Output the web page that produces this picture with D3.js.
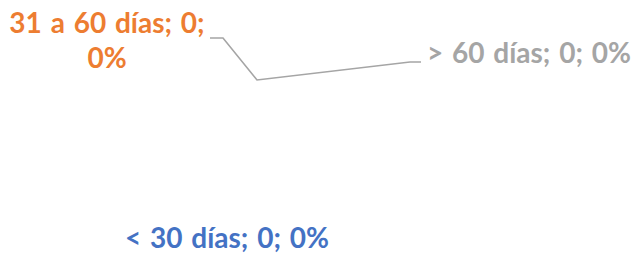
<!DOCTYPE html>
<html>
<head>
<meta charset="utf-8">
<script src="https://cdn.jsdelivr.net/npm/d3@7"></script>
<style>
  body { margin: 0; background: #fff; }
  text { font-family: Lato, "Open Sans", sans-serif; font-weight: bold; }
</style>
</head>
<body>
<div id="chart"></div>
<script>
const categories = ["< 30 días", "31 a 60 días", "> 60 días"];
const values = [0, 0, 0];
const percents = ["0%", "0%", "0%"];
const colors = ["#4472C4", "#ED7D31", "#A5A5A5"];

const width = 633, height = 253;
const svg = d3.select("#chart").append("svg")
    .attr("width", width)
    .attr("height", height);

const pie = d3.pie().sort(null).value(d => d.value);
const data = categories.map((c, i) => ({ name: c, value: values[i], pct: percents[i], color: colors[i] }));
const arcs = pie(data);
const arc = d3.arc().innerRadius(0).outerRadius(70);

// pie body (all slices are zero so nothing visible)
const g = svg.append("g").attr("transform", "translate(316,150)");
g.selectAll("path")
    .data(arcs)
    .join("path")
    .attr("d", arc)
    .attr("fill", d => d.data.color);

// label placement as Excel left it
const labelLayout = [
    { lines: [d => `${d.name}; ${d.value}; ${d.pct}`], x: 227, y: 248, anchor: "middle" },
    { lines: [d => `${d.name}; ${d.value};`, d => d.pct], x: 107, y: 33, dy: 35, anchor: "middle" },
    { lines: [d => `${d.name}; ${d.value}; ${d.pct}`], x: 427, y: 63, anchor: "start" }
];

arcs.forEach((a, i) => {
    const L = labelLayout[i];
    const t = svg.append("text")
        .attr("fill", a.data.color)
        .attr("font-size", 28)
        .attr("word-spacing", 2)
        .attr("text-anchor", L.anchor);
    L.lines.forEach((fn, j) => {
        t.append("tspan")
            .attr("x", L.x)
            .attr("y", L.y + j * (L.dy || 0))
            .text(fn(a.data));
    });
});

// leader line for the gray label
svg.append("path")
    .attr("d", d3.line()([[210, 38], [223, 38], [257, 80], [410, 62], [421, 62]]))
    .attr("fill", "none")
    .attr("stroke", "#A5A5A5")
    .attr("stroke-width", 1.6);
</script>
</body>
</html>
